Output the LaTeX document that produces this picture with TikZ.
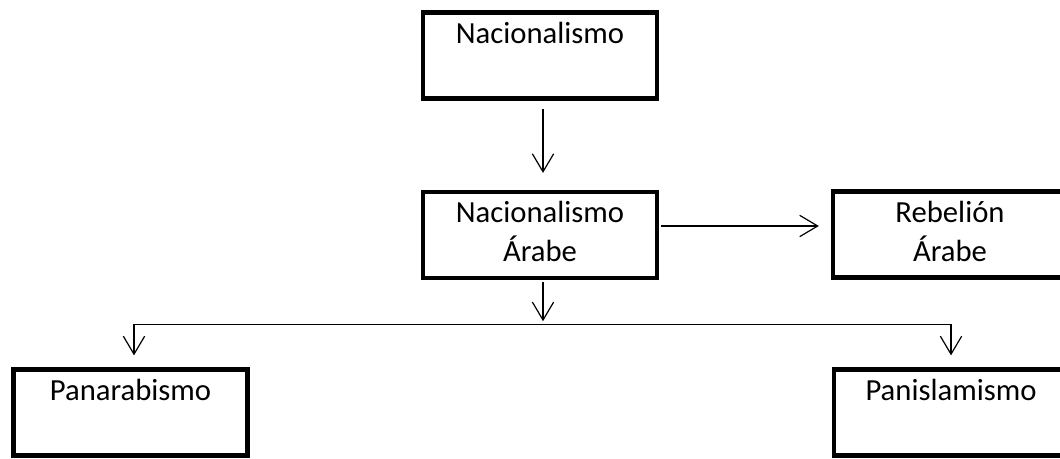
\documentclass[tikz,border=0pt]{standalone}
\usepackage{fontspec}
\setmainfont{Carlito}
\usetikzlibrary{calc, positioning, arrows.meta}

\tikzset{
caja/.style={draw, line width=3.2pt, inner sep=0pt, font=\fontsize{23}{29.25}\selectfont},
flecha/.style={-{Straight Barb[length=13.5pt,width=16pt]}, line width=0.9pt}
}
\newcommand{\cajatxt}[1]{\parbox[c][64.5pt][t]{175.5pt}{\centering\rule{0pt}{23pt}#1}}

\begin{document}
\begin{tikzpicture}[x=0.75pt,y=-0.75pt]
\useasboundingbox (0,0) rectangle (1060,459);
\clip (0,0) rectangle (1060,459);
\node[caja] (nac) at (540,55.5) {\cajatxt{Nacionalismo}};
\node[caja] (nacar) at (540,235) {\cajatxt{Nacionalismo\\Árabe}};
\node[caja] (rebel) at (950,234.5) {\cajatxt{Rebelión\\Árabe}};
\node[caja] (panar) at (130.5,412.5) {\cajatxt{Panarabismo}};
\node[caja] (panis) at (951,412.5) {\cajatxt{Panislamismo}};
%conectores
\coordinate (rama) at ($(nacar.south)+(3,44)$);
\draw[flecha, shorten <=6.4pt, shorten >=12.7pt] ($(nac.south)+(3,0)$) -- ($(nacar.north)+(3,0)$);
\draw[flecha] ($(nacar.east)+(2,-9)$) -- ($(rebel.west)+(-12,-8.5)$);
\draw[flecha, shorten >=2.2pt] ($(nacar.south)+(3,2)$) -- (rama);
\draw[flecha] (rama) -| ($(panar.north)+(3.5,-12)$);
\draw[flecha] (rama) -| ($(panis.north)+(0,-12)$);
\end{tikzpicture}
\end{document}
